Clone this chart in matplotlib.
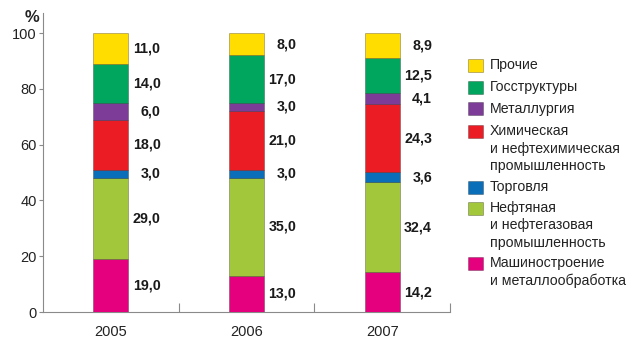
import matplotlib
matplotlib.use("Agg")
import matplotlib.pyplot as plt
from matplotlib.patches import Rectangle
import numpy as np

plt.rcParams['font.family'] = ['Liberation Sans', 'DejaVu Sans']

years = ['2005', '2006', '2007']

# series from bottom to top
mach = [19.0, 13.0, 14.2]
oil = [29.0, 35.0, 32.4]
trade = [3.0, 3.0, 3.6]
chem = [18.0, 21.0, 24.3]
metal = [6.0, 3.0, 4.1]
gov = [14.0, 17.0, 12.5]
other = [11.0, 8.0, 8.9]

series_values = [mach, oil, trade, chem, metal, gov, other]
series_labels = [
    'Машиностроение\nи металлообработка',
    'Нефтяная\nи нефтегазовая\nпромышленность',
    'Торговля',
    'Химическая\nи нефтехимическая\nпромышленность',
    'Металлургия',
    'Госструктуры',
    'Прочие',
]
series_colors = ['#E5007D', '#A2C73B', '#0A6FB8', '#EC1C24', '#7D3C98', '#00A65D', '#FFDD00']

yticks = [0, 20, 40, 60, 80, 100]

fig = plt.figure(figsize=(6.4, 3.41), dpi=100)
ax = fig.add_axes([43/640, 1-312/341, (450-43)/640, (312-13)/341])

x = np.arange(len(years))
bottom = np.zeros(len(years))
axis_col = '#8a8a8a'
for vals, col in zip(series_values, series_colors):
    vals = np.array(vals)
    ax.bar(x, vals, width=0.258, bottom=bottom, color=col,
           edgecolor=(0, 0, 0, 0.3), linewidth=0.6, zorder=3)
    for xi, b, v in zip(x, bottom, vals):
        ax.text(xi + 0.367, b + v/2, f"{v:.1f}".replace('.', ','),
                ha='right', va='center', fontsize=10.3, fontweight='bold',
                color='#1a1a1a')
    bottom = bottom + vals

ax.set_xlim(-0.5, len(years) - 0.5)
ax.set_ylim(0, 107.2)
ax.set_yticks(yticks)
ax.set_yticklabels([str(t) for t in yticks])
ax.set_xticks(x)
ax.set_xticklabels(years)
ax.set_xticks(np.arange(len(years)) + 0.5, minor=True)
ax.tick_params(axis='x', which='major', length=0, pad=9.5, labelsize=10.5, colors='#222222')
ax.tick_params(axis='x', which='minor', direction='in', length=6.5, width=0.8, color=axis_col)
ax.tick_params(axis='y', which='major', direction='out', length=3, width=0.8,
               color=axis_col, pad=1.5, labelsize=10.5, labelcolor='#222222')
for s in ['top', 'right']:
    ax.spines[s].set_visible(False)
for s in ['left', 'bottom']:
    ax.spines[s].set_color(axis_col)
    ax.spines[s].set_linewidth(0.8)

fig.text(32/640, 1-18/341, '%', ha='center', va='center', fontsize=12,
         fontweight='bold', color='#222222')

# manual legend (top to bottom)
W, H = 640, 341
first_line_y = [65, 87, 109, 131, 187, 208, 263]
line_step = 17.5
for lab, col, yc in zip(series_labels[::-1], series_colors[::-1], first_line_y):
    fig.patches.append(Rectangle((468/W, 1-(yc+6.5)/H), 15/W, 13/H,
                                 transform=fig.transFigure, facecolor=col,
                                 edgecolor=(0, 0, 0, 0.3), linewidth=0.6))
    for k, line in enumerate(lab.split('\n')):
        fig.text(490/W, 1-(yc + k*line_step)/H, line, ha='left', va='center',
                 fontsize=10.2, color='#222222')

fig.savefig('out.png', dpi=100)
